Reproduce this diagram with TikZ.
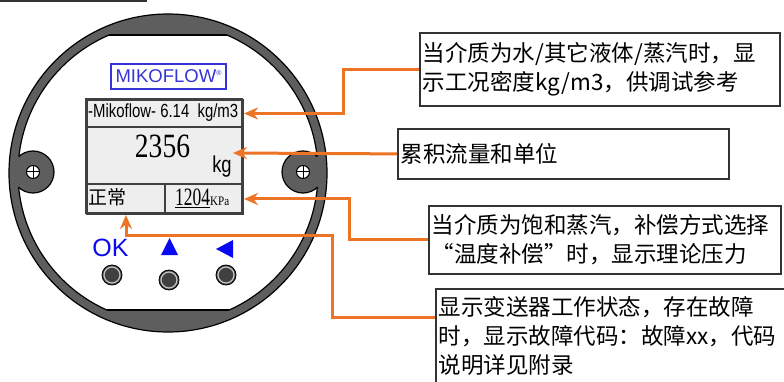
\documentclass[tikz,border=0pt]{standalone}
\usepackage{fontspec}
\setmainfont{Liberation Serif}
\setsansfont{Liberation Sans}
\newfontfamily\cjk{Noto Sans CJK SC}
\usetikzlibrary{arrows.meta}

\definecolor{calloutorange}{HTML}{EC7424}
\definecolor{logoblue}{HTML}{3535D5}
\definecolor{keyblue}{HTML}{0A0AF0}
\definecolor{ringgray}{HTML}{5E5E5E}
\definecolor{lcdgray}{HTML}{EEEEEE}
\definecolor{framegray}{HTML}{404040}
\definecolor{notegray}{HTML}{333333}

\tikzset{
    note/.style={
        draw=notegray, line width=1.8pt, anchor=north west,
        inner xsep=3pt, inner ysep=0pt, align=left,
        font=\cjk\fontsize{22.5}{29}\selectfont,
    },
    callout/.style={draw=calloutorange, line width=3pt, -{Stealth[length=14pt,width=12pt]}},
    lcd_cell/.style={draw=framegray, line width=2pt, fill=lcdgray, anchor=north west, inner sep=0pt},
    key_button/.style={
        circle, draw=black, line width=0.8pt, fill=black!75, minimum size=20pt, inner sep=0pt,
        path picture={\draw[gray!45, line width=1.2pt] (path picture bounding box.center) circle (8pt);},
    },
}

\begin{document}
\begin{tikzpicture}[x=1pt, y=-1pt]
    \useasboundingbox (0,0) rectangle (784,382);
    \clip (0,0) rectangle (784,382);

    \draw[notegray, line width=2] (-10,-20) rectangle (146,1);

    % housing ring, flats and ears
    \fill[ringgray] (168,173) circle (159);
    \begin{scope}
        \clip (0,35) rectangle (340,310);
        \fill[white] (168,173) circle (150);
        \draw[line width=1.2] (168,173) circle (150);
    \end{scope}
    \begin{scope}
        \clip (168,173) circle (150);
        \draw[line width=1.2] (0,35) -- (340,35) (0,310) -- (340,310);
    \end{scope}
    \fill[ringgray] (33,172) circle (21) (303,172) circle (21);
    \begin{scope}
        \clip (0,35) rectangle (340,310);
        \clip (168,173) circle (150);
        \draw[line width=1.2] (33,172) circle (21) (303,172) circle (21);
    \end{scope}
    \draw[line width=1.2] (168,173) circle (159);
    \foreach \sx in {33,303} {
        \filldraw[fill=white, draw=black, line width=1] (\sx,172) circle (6.5);
        \draw[line width=1] (\sx-6.5,172) -- (\sx+6.5,172) (\sx,165.5) -- (\sx,178.5);
    }

    \node[draw=logoblue, line width=1.2pt, minimum width=115, minimum height=25, inner sep=0pt,
        text=logoblue, font=\sffamily\fontsize{18.5}{18.5}\selectfont] (logo) at (168.5,76.5)
        {MIKOFLOW\raisebox{7pt}{\fontsize{7}{7}\selectfont ®}};

    % display
    \node[lcd_cell, minimum width=156, minimum height=27] (dens_row) at (86,99) {};
    \node[lcd_cell, minimum width=156, minimum height=57] (total_row) at (86,126) {};
    \node[lcd_cell, minimum width=78, minimum height=30] (status_cell) at (86,183) {};
    \node[lcd_cell, minimum width=78, minimum height=30] (press_cell) at (164,183) {};
    \draw[framegray, line width=2.6] (86,99) rectangle (242,213);

    \node[anchor=west, inner sep=0pt, font=\sffamily\fontsize{19}{19}\selectfont] (dens_text) at (88,112.5)
        {\scalebox{0.785}[1]{-Mikoflow- 6.14\ \ kg/m3}};
    \node[inner sep=0pt, font=\rmfamily\fontsize{34}{34}\selectfont] (total_text) at (162.5,146.5)
        {\scalebox{0.81}[1]{2356}};
    \node[inner sep=0pt, font=\sffamily\fontsize{23}{23}\selectfont] (unit_text) at (222,167)
        {\scalebox{0.8}[1]{kg}};
    \node[anchor=west, inner sep=0pt, font=\cjk\fontsize{19}{19}\selectfont] (status_text) at (88,197) {正常};
    \node[anchor=west, inner sep=0pt] (press_text) at (175,198.5)
        {\fontsize{25}{25}\selectfont\scalebox{0.7}[1]{\underline{1204}}\fontsize{13}{13}\selectfont\scalebox{0.85}[1]{KPa}};

    % keys
    \node[inner sep=0pt, text=keyblue, font=\sffamily\fontsize{25}{25}\selectfont] (ok_label) at (110.5,248) {OK};
    \fill[keyblue] (161,255) -- (178,255) -- (169.5,238) -- cycle;
    \fill[keyblue] (233,240) -- (233,258) -- (216,249) -- cycle;
    \node[key_button] (ok_key) at (112,275) {};
    \node[key_button] (up_key) at (169,280) {};
    \node[key_button] (left_key) at (226,275) {};

    % notes
    \node[note, minimum height=73, text width=354] (dens_note) at (419,32)
        {当介质为水/其它液体/蒸汽时，显\\示工况密度kg/m3，供调试参考};
    \node[note, minimum height=50, text width=325] (total_note) at (397,128) {累积流量和单位};
    \node[note, minimum height=68, text width=346] (press_note) at (428,205)
        {当介质为饱和蒸汽，补偿方式选择\\“温度补偿”时，显示理论压力};
    \node[note, inner ysep=7pt, text width=380] (status_note) at (435,288)
        {显示变送器工作状态，存在故障\\时，显示故障代码：故障xx，代码\\说明详见附录\\\mbox{}};

    \coordinate (unit_mark) at (233,153);
    \coordinate (status_bend) at (332,235);
    \draw[callout] (dens_note.west) -- ++(-76,0) |- (dens_row.east);
    \draw[callout] (total_note.west) -- (unit_mark);
    \draw[callout] (press_note.west) -- ++(-79,0) |- (press_cell.east);
    \draw[callout] (status_note.north west) ++(0,29) -| (status_bend) -| (status_cell.south);
\end{tikzpicture}
\end{document}
